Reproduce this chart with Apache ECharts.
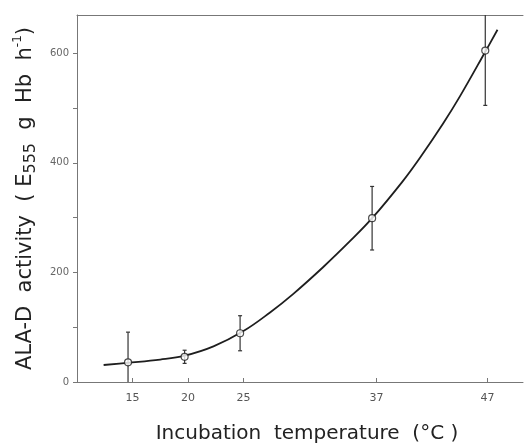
<!DOCTYPE html>
<html>
<head>
<meta charset="utf-8">
<script src="https://cdn.jsdelivr.net/npm/echarts@6/dist/echarts.min.js"></script>
<style>
html, body { margin: 0; padding: 0; background: #fff; }
#chart { width: 524px; height: 444px; }
</style>
</head>
<body>
<div id="chart"></div>
<script>
// measured points (temperature as drawn, ALA-D activity, error)
const pointTemp = [14.6, 19.7, 24.7, 36.6, 46.8]
const pointActivity = [36, 46, 89, 299, 605]
const pointError = [55, 12, 32, 58, 100]

// fitted curve
const curveTemp = [12.4, 14.5, 17.5, 19.7, 22.3, 25.0, 27.4, 29.5, 32.2, 34.6, 36.6, 39.3, 40.9, 43.0, 44.5, 46.8, 47.9]
const curveActivity = [31, 35, 41, 48, 65, 93, 127, 161, 210, 257, 299, 365, 409, 472, 521, 603, 643]

const tempTicks = [15, 20, 25, 37, 47]
const activityTicks = [0, 100, 200, 300, 400, 500, 600]
const activityLabels = [0, 200, 400, 600]

const axisColor = '#777'
const inkColor = '#1e1e1e'

const chart = echarts.init(document.getElementById('chart'))

chart.setOption({
  animation: false,
  backgroundColor: '#fff',
  grid: { left: 77, right: 1, top: 15, bottom: 62, outerBoundsMode: 'none' },
  xAxis: [
    {
      type: 'value', min: 10, max: 50.2,
      name: 'Incubation  temperature  (°C )',
      nameLocation: 'middle', nameGap: 42,
      nameTextStyle: { fontFamily: 'DejaVu Sans', fontSize: 20, color: '#222', padding: [0, 0, 0, 14] },
      axisLine: { show: true, lineStyle: { color: axisColor, width: 1 } },
      axisTick: { show: true, inside: true, length: 4, customValues: tempTicks, lineStyle: { color: axisColor } },
      axisLabel: { customValues: tempTicks, fontFamily: 'DejaVu Sans', fontSize: 11, color: '#555', margin: 11 },
      splitLine: { show: false }
    },
    {
      type: 'value', min: 10, max: 50.2, position: 'top',
      axisLine: { show: true, lineStyle: { color: axisColor, width: 1 } },
      axisTick: { show: false },
      axisLabel: { show: false },
      splitLine: { show: false }
    }
  ],
  yAxis: {
    type: 'value', min: 0, max: 670,
    name: '{n|ALA-D  activity  ( E}{s|555}{n|  g  Hb  h}{p|-1}{n|)}',
    nameLocation: 'middle', nameRotate: 90, nameGap: 29,
    nameTextStyle: {
      rich: {
        n: { fontFamily: 'DejaVu Sans', fontSize: 21, color: '#222', lineHeight: 27, verticalAlign: 'middle' },
        s: { fontFamily: 'DejaVu Sans', fontSize: 16, color: '#222', lineHeight: 27, verticalAlign: 'bottom' },
        p: { fontFamily: 'DejaVu Sans', fontSize: 12, color: '#222', lineHeight: 27, verticalAlign: 'top' }
      }
    },
    axisLine: { show: true, lineStyle: { color: axisColor, width: 1 } },
    axisTick: { show: true, length: 4, customValues: activityTicks, lineStyle: { color: axisColor } },
    axisLabel: { customValues: activityLabels, fontFamily: 'DejaVu Sans', fontSize: 10, color: '#666', margin: 8 },
    splitLine: { show: false }
  },
  series: [
    {
      type: 'line',
      data: curveTemp.map((t, i) => [t, curveActivity[i]]),
      smooth: 0.4, symbol: 'none',
      lineStyle: { color: inkColor, width: 1.8 },
      z: 2
    },
    {
      type: 'custom',
      data: pointTemp.map((t, i) => [t, pointActivity[i] - pointError[i], pointActivity[i] + pointError[i]]),
      encode: { x: 0, y: [1, 2] },
      clip: true,
      renderItem: (params, api) => {
        const lo = api.coord([api.value(0), api.value(1)])
        const hi = api.coord([api.value(0), api.value(2)])
        const style = { stroke: '#333', lineWidth: 1.2 }
        const c = 2
        return {
          type: 'group',
          children: [
            { type: 'line', shape: { x1: lo[0], y1: lo[1], x2: hi[0], y2: hi[1] }, style },
            { type: 'line', shape: { x1: lo[0] - c, y1: lo[1], x2: lo[0] + c, y2: lo[1] }, style },
            { type: 'line', shape: { x1: hi[0] - c, y1: hi[1], x2: hi[0] + c, y2: hi[1] }, style }
          ]
        }
      },
      z: 3
    },
    {
      type: 'scatter',
      data: pointTemp.map((t, i) => [t, pointActivity[i]]),
      symbol: 'circle', symbolSize: 7,
      itemStyle: { color: '#fff', borderColor: inkColor, borderWidth: 1.2 },
      z: 4
    }
  ]
})
</script>
</body>
</html>
